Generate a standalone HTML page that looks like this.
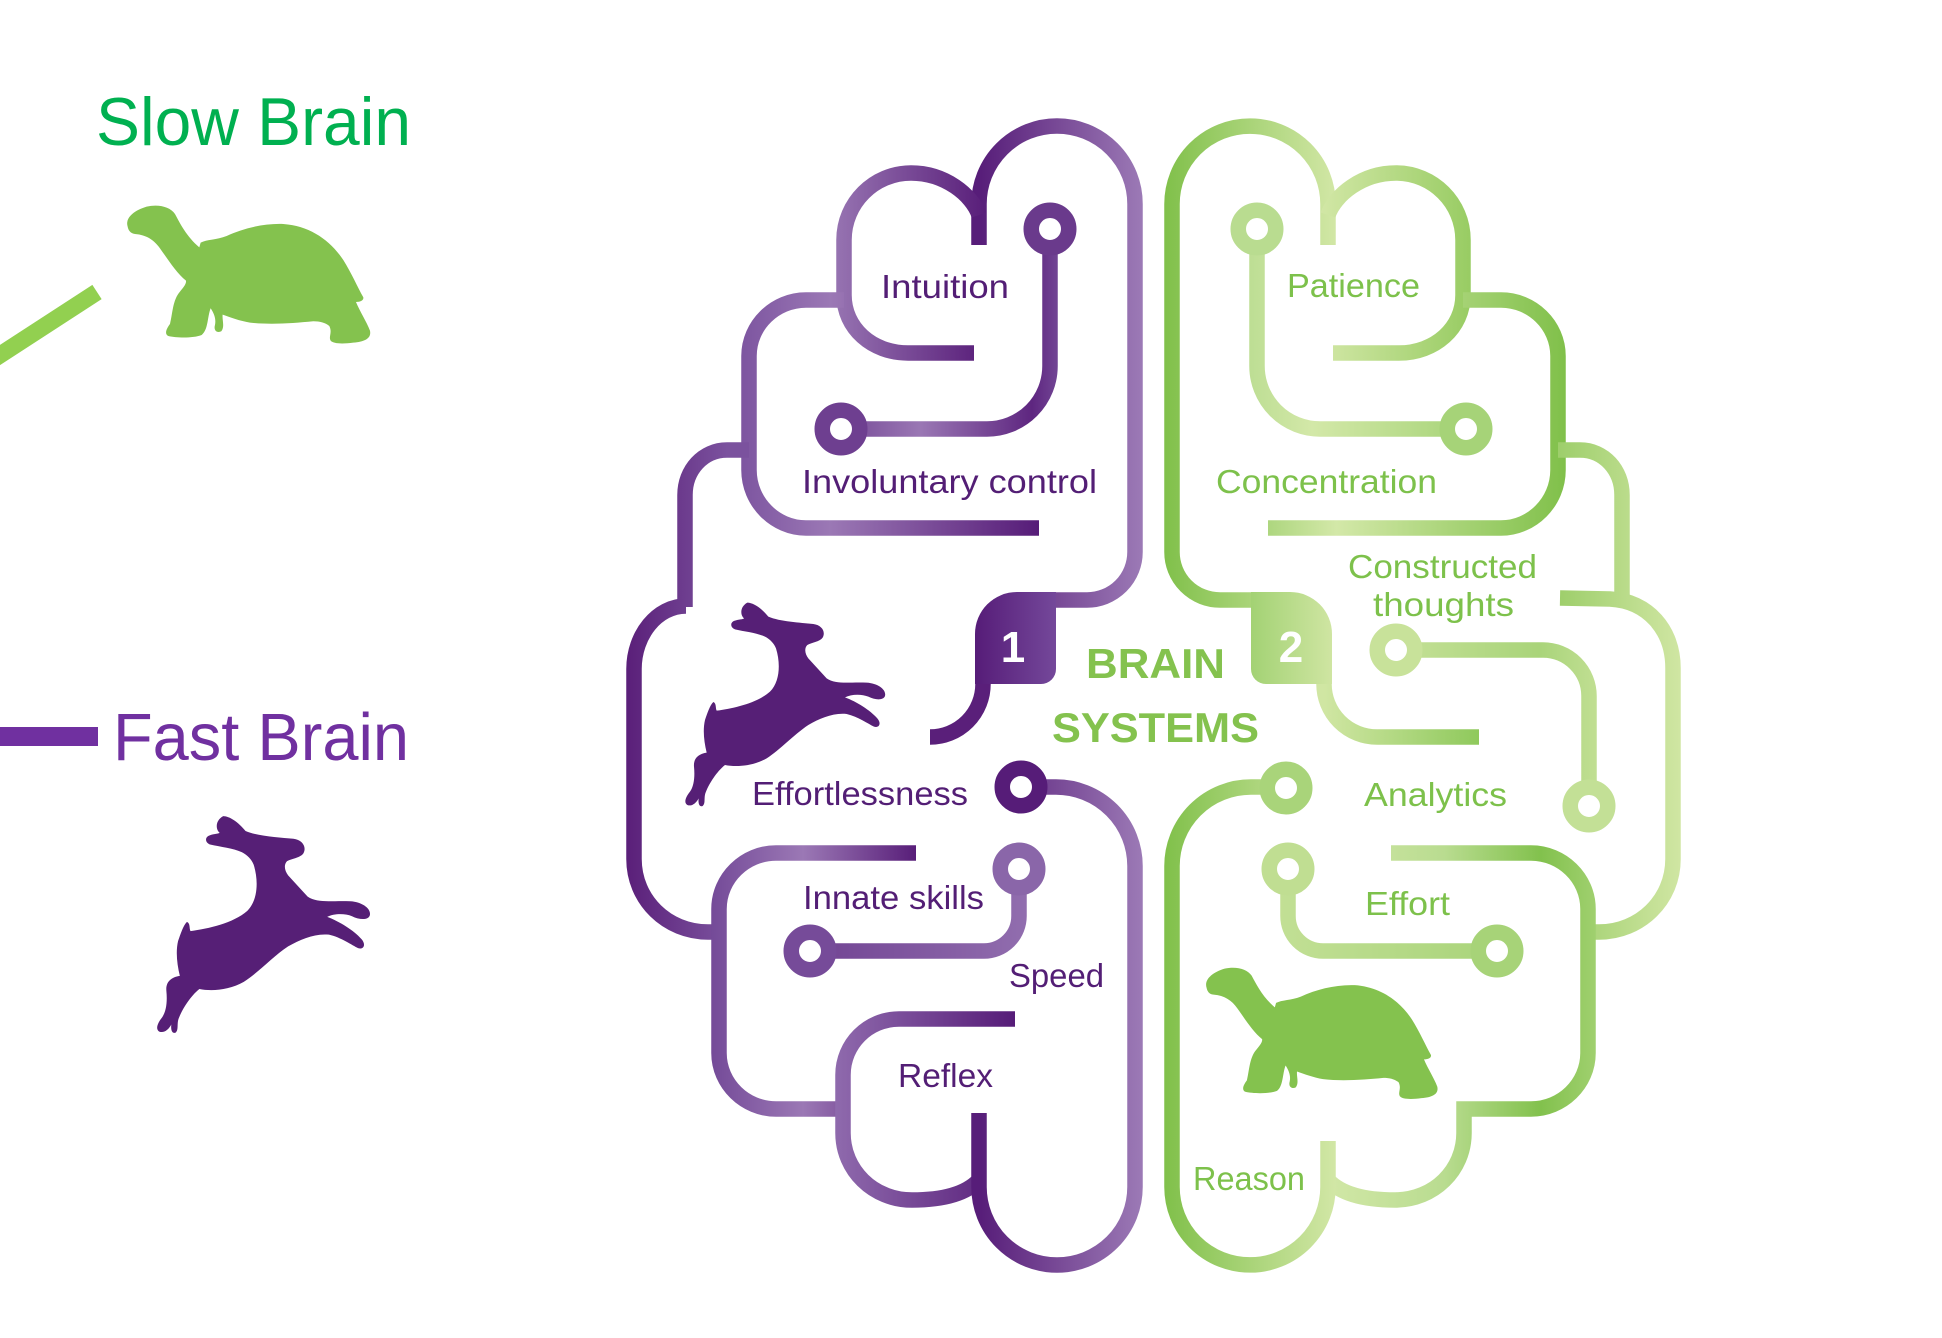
<!DOCTYPE html>
<html>
<head>
<meta charset="utf-8">
<style>
html,body{margin:0;padding:0;background:#ffffff;overflow:hidden;}
svg{display:block;}
text{font-family:"Liberation Sans",Arial,sans-serif;}
</style>
</head>
<body>
<svg xmlns="http://www.w3.org/2000/svg" width="1942" height="1338" viewBox="0 0 1942 1338">
<defs>
  <!-- purple gradients -->
  <linearGradient id="pA" gradientUnits="userSpaceOnUse" x1="979" y1="0" x2="1143" y2="0">
    <stop offset="0" stop-color="#571d79"/><stop offset="1" stop-color="#9c7ab6"/>
  </linearGradient>
  <linearGradient id="pB" gradientUnits="userSpaceOnUse" x1="836" y1="0" x2="987" y2="0">
    <stop offset="0" stop-color="#9673b1"/><stop offset="1" stop-color="#581d79"/>
  </linearGradient>
  <linearGradient id="pC" gradientUnits="userSpaceOnUse" x1="741" y1="0" x2="1039" y2="0">
    <stop offset="0" stop-color="#7d55a0"/><stop offset="0.3" stop-color="#9b78b5"/><stop offset="1" stop-color="#561c78"/>
  </linearGradient>
  <linearGradient id="pD" gradientUnits="userSpaceOnUse" x1="626" y1="0" x2="727" y2="0">
    <stop offset="0" stop-color="#5a1f79"/><stop offset="1" stop-color="#7b529e"/>
  </linearGradient>
  <linearGradient id="pE" gradientUnits="userSpaceOnUse" x1="711" y1="0" x2="916" y2="0">
    <stop offset="0" stop-color="#744a98"/><stop offset="0.45" stop-color="#9b78b5"/><stop offset="1" stop-color="#581e79"/>
  </linearGradient>
  <linearGradient id="pF" gradientUnits="userSpaceOnUse" x1="835" y1="0" x2="1015" y2="0">
    <stop offset="0" stop-color="#8f6aad"/><stop offset="1" stop-color="#561c78"/>
  </linearGradient>
  <linearGradient id="pG" gradientUnits="userSpaceOnUse" x1="822" y1="0" x2="1069" y2="0">
    <stop offset="0" stop-color="#6e3f90"/><stop offset="0.4" stop-color="#9a77b4"/><stop offset="0.85" stop-color="#5e2680"/><stop offset="1" stop-color="#7a529d"/>
  </linearGradient>
  <linearGradient id="pH" gradientUnits="userSpaceOnUse" x1="790" y1="0" x2="1040" y2="0">
    <stop offset="0" stop-color="#6e3f90"/><stop offset="1" stop-color="#9370b0"/>
  </linearGradient>
  <linearGradient id="pBadge" gradientUnits="userSpaceOnUse" x1="975" y1="0" x2="1056" y2="0">
    <stop offset="0" stop-color="#561c78"/><stop offset="1" stop-color="#74489a"/>
  </linearGradient>
  <!-- green gradients -->
  <linearGradient id="gA" gradientUnits="userSpaceOnUse" x1="1164" y1="0" x2="1336" y2="0">
    <stop offset="0" stop-color="#80c04a"/><stop offset="1" stop-color="#d2e7a6"/>
  </linearGradient>
  <linearGradient id="gB" gradientUnits="userSpaceOnUse" x1="1320" y1="0" x2="1471" y2="0">
    <stop offset="0" stop-color="#d2e7a6"/><stop offset="1" stop-color="#98cc63"/>
  </linearGradient>
  <linearGradient id="gC" gradientUnits="userSpaceOnUse" x1="1260" y1="0" x2="1566" y2="0">
    <stop offset="0" stop-color="#a9d47a"/><stop offset="0.25" stop-color="#d3e8a8"/><stop offset="1" stop-color="#80c04a"/>
  </linearGradient>
  <linearGradient id="gD" gradientUnits="userSpaceOnUse" x1="1552" y1="0" x2="1681" y2="0">
    <stop offset="0" stop-color="#9bcd68"/><stop offset="1" stop-color="#d0e6a3"/>
  </linearGradient>
  <linearGradient id="gE" gradientUnits="userSpaceOnUse" x1="1320" y1="0" x2="1596" y2="0">
    <stop offset="0" stop-color="#d3e8a8"/><stop offset="0.45" stop-color="#b9dc90"/><stop offset="0.8" stop-color="#82c14d"/><stop offset="1" stop-color="#a0d06f"/>
  </linearGradient>
  <linearGradient id="gF" gradientUnits="userSpaceOnUse" x1="1238" y1="0" x2="1485" y2="0">
    <stop offset="0" stop-color="#b9dc90"/><stop offset="0.3" stop-color="#d3e8a8"/><stop offset="1" stop-color="#a3d274"/>
  </linearGradient>
  <linearGradient id="gG" gradientUnits="userSpaceOnUse" x1="1377" y1="0" x2="1608" y2="0">
    <stop offset="0" stop-color="#c8e29a"/><stop offset="0.7" stop-color="#a9d47a"/><stop offset="1" stop-color="#c5e197"/>
  </linearGradient>
  <linearGradient id="gH" gradientUnits="userSpaceOnUse" x1="1269" y1="0" x2="1516" y2="0">
    <stop offset="0" stop-color="#c3e096"/><stop offset="1" stop-color="#a7d378"/>
  </linearGradient>
  <linearGradient id="gI" gradientUnits="userSpaceOnUse" x1="1164" y1="0" x2="1305" y2="0">
    <stop offset="0" stop-color="#82c14d"/><stop offset="1" stop-color="#a9d47a"/>
  </linearGradient>
  <linearGradient id="gBadge" gradientUnits="userSpaceOnUse" x1="1251" y1="0" x2="1332" y2="0">
    <stop offset="0" stop-color="#a3d274"/><stop offset="1" stop-color="#cfe5a2"/>
  </linearGradient>
  <linearGradient id="gTail" gradientUnits="userSpaceOnUse" x1="1324" y1="0" x2="1479" y2="0">
    <stop offset="0" stop-color="#d0e6a3"/><stop offset="1" stop-color="#8fc95c"/>
  </linearGradient>
</defs>

<!-- ============ LEFT LEGEND ============ -->
<text x="96" y="145" font-size="68" fill="#00b050" textLength="315" lengthAdjust="spacingAndGlyphs">Slow Brain</text>
<line x1="-20" y1="368" x2="97" y2="292" stroke="#92d050" stroke-width="17"/>
<text x="113" y="760" font-size="67" fill="#7030a0" textLength="296" lengthAdjust="spacingAndGlyphs">Fast Brain</text>
<rect x="0" y="727" width="98" height="19" fill="#7030a0"/>

<!-- turtle (legend) -->
<path id="turtle" transform="translate(0,60) scale(0.3333)" fill="#84c24e" d="M 383 500 C 375 475, 400 452, 440 440 C 475 432, 510 440, 525 462 C 540 490, 560 530, 598 562 L 602 548 C 620 538, 650 540, 680 528 C 730 505, 790 490, 850 492 C 930 498, 990 540, 1030 600 C 1055 640, 1072 680, 1090 712 C 1092 722, 1080 726, 1068 726 C 1080 755, 1100 785, 1110 812 C 1115 835, 1095 845, 1060 848 C 1030 852, 1000 852, 992 842 C 985 830, 998 818, 988 798 C 975 788, 960 784, 940 784 C 880 790, 810 795, 750 788 C 720 783, 690 772, 668 764 C 666 780, 675 800, 664 814 C 652 820, 640 812, 645 795 C 648 780, 645 765, 632 745 C 622 770, 625 810, 605 825 C 580 835, 530 834, 505 828 C 492 822, 500 805, 510 792 C 518 760, 518 720, 540 695 C 548 685, 560 672, 558 662 C 530 640, 505 600, 480 565 C 462 540, 440 525, 405 522 C 390 520, 385 510, 383 500 Z"/>

<!-- hare (legend) -->
<path transform="translate(140.8,802.6) scale(0.355)" fill="#561f76" d="M 232 38 C 250 38, 275 55, 295 80 C 330 95, 390 98, 430 102 C 455 105, 468 125, 458 143 C 450 155, 425 158, 412 165 C 402 175, 405 192, 415 205 L 470 265 C 500 285, 540 275, 590 278 C 625 280, 650 300, 645 318 C 640 332, 615 330, 595 320 C 575 312, 545 312, 525 322 C 560 335, 600 360, 622 385 C 635 400, 628 415, 612 410 C 595 402, 565 380, 530 372 C 490 368, 450 385, 415 405 C 370 435, 330 480, 290 505 C 250 528, 200 532, 165 525 C 140 545, 118 580, 108 605 C 100 622, 108 640, 98 648 C 88 652, 84 640, 86 625 C 78 640, 65 650, 52 645 C 40 638, 48 620, 60 605 C 72 588, 75 560, 72 530 C 70 505, 85 492, 110 488 C 102 455, 98 420, 105 390 C 112 370, 120 345, 130 336 C 140 340, 136 355, 140 362 C 190 355, 260 340, 300 305 C 330 275, 332 220, 318 175 C 312 160, 300 148, 285 140 C 260 128, 225 125, 195 118 C 180 112, 180 96, 195 92 C 205 88, 220 88, 222 85 C 210 75, 210 50, 232 38 Z"/>

<!-- ============ PURPLE HEMISPHERE ============ -->
<g fill="none" stroke-width="15.5" stroke-linecap="butt" stroke-linejoin="round">
  <path stroke="url(#pA)" d="M 979 245 V 204 A 78 78 0 0 1 1135 204 V 552 A 48 48 0 0 1 1087 600 H 1050"/>
  <path stroke="url(#pB)" d="M 979 215 C 972 195, 945 173, 911 173 C 874 173, 844 203, 844 240 V 295 C 844 328, 872 353, 908 353 H 974"/>
  <path stroke="url(#pC)" d="M 844 300 H 806 C 775 300, 749 325, 749 356 V 470 C 749 502, 775 528, 806 528 H 1039"/>
  <path stroke="url(#pD)" d="M 749 450 H 727 C 703 450, 685 470, 685 495 V 607"/>
  <path stroke="url(#pD)" d="M 686 606 C 657 606, 634 635, 634 669 V 859 C 634 900, 667 932, 708 932 H 722"/>
  <path stroke="url(#pE)" d="M 916 853 H 776 C 745 853, 719 878, 719 909 V 1053 C 719 1084, 745 1109, 776 1109 H 846"/>
  <path stroke="url(#pF)" d="M 1015 1019 H 899 C 868 1019, 843 1044, 843 1075 V 1133 C 843 1170, 873 1200, 912 1200 C 940 1200, 965 1195, 979 1180"/>
  <path stroke="url(#pA)" d="M 979 1113 V 1187 A 78 78 0 0 0 1135 1187 V 866 A 79 79 0 0 0 1056 787 H 1040"/>
  <path stroke="url(#pG)" d="M 1050 248 V 366 A 63 63 0 0 1 987 429 H 860"/>
  <path stroke="url(#pH)" d="M 1019 888 V 916 A 35 35 0 0 1 984 951 H 829"/>
  <path stroke="#5a1f7a" d="M 983 680 V 684 A 53 53 0 0 1 930 737"/>
  <circle cx="1050" cy="229" r="18.75" fill="#fff" stroke="#6a3a8c"/>
  <circle cx="841" cy="429" r="18.75" fill="#fff" stroke="#6e3f90"/>
  <circle cx="1021" cy="787" r="18.75" fill="#fff" stroke="#561c78"/>
  <circle cx="1019" cy="869" r="18.75" fill="#fff" stroke="#8a66a9"/>
  <circle cx="810" cy="951" r="18.75" fill="#fff" stroke="#764b99"/>
</g>
<path fill="url(#pBadge)" d="M 975 684 V 634 A 42 42 0 0 1 1017 592 H 1056 V 669 A 15 15 0 0 1 1041 684 Z"/>
<text x="1013" y="662" font-size="44" font-weight="bold" fill="#ffffff" text-anchor="middle">1</text>

<!-- rabbit in brain -->
<path transform="translate(670,590) scale(0.3333)" fill="#561f76" d="M 232 38 C 250 38, 275 55, 295 80 C 330 95, 390 98, 430 102 C 455 105, 468 125, 458 143 C 450 155, 425 158, 412 165 C 402 175, 405 192, 415 205 L 470 265 C 500 285, 540 275, 590 278 C 625 280, 650 300, 645 318 C 640 332, 615 330, 595 320 C 575 312, 545 312, 525 322 C 560 335, 600 360, 622 385 C 635 400, 628 415, 612 410 C 595 402, 565 380, 530 372 C 490 368, 450 385, 415 405 C 370 435, 330 480, 290 505 C 250 528, 200 532, 165 525 C 140 545, 118 580, 108 605 C 100 622, 108 640, 98 648 C 88 652, 84 640, 86 625 C 78 640, 65 650, 52 645 C 40 638, 48 620, 60 605 C 72 588, 75 560, 72 530 C 70 505, 85 492, 110 488 C 102 455, 98 420, 105 390 C 112 370, 120 345, 130 336 C 140 340, 136 355, 140 362 C 190 355, 260 340, 300 305 C 330 275, 332 220, 318 175 C 312 160, 300 148, 285 140 C 260 128, 225 125, 195 118 C 180 112, 180 96, 195 92 C 205 88, 220 88, 222 85 C 210 75, 210 50, 232 38 Z"/>

<!-- purple labels -->
<g font-size="33" fill="#531e75">
  <text x="881" y="298" textLength="128" lengthAdjust="spacingAndGlyphs">Intuition</text>
  <text x="802" y="493" textLength="295" lengthAdjust="spacingAndGlyphs">Involuntary control</text>
  <text x="752" y="805" textLength="216" lengthAdjust="spacingAndGlyphs">Effortlessness</text>
  <text x="803" y="909" textLength="181" lengthAdjust="spacingAndGlyphs">Innate skills</text>
  <text x="1009" y="987" textLength="95" lengthAdjust="spacingAndGlyphs">Speed</text>
  <text x="898" y="1087" textLength="95" lengthAdjust="spacingAndGlyphs">Reflex</text>
</g>

<!-- ============ GREEN HEMISPHERE ============ -->
<g fill="none" stroke-width="15.5" stroke-linecap="butt" stroke-linejoin="round">
  <path stroke="url(#gA)" d="M 1328 245 V 204 A 78 78 0 0 0 1172 204 V 552 A 48 48 0 0 0 1220 600 H 1257"/>
  <path stroke="url(#gB)" d="M 1328 215 C 1335 195, 1362 173, 1396 173 C 1433 173, 1463 203, 1463 240 V 295 C 1463 328, 1435 353, 1399 353 H 1333"/>
  <path stroke="url(#gC)" d="M 1463 300 H 1501 C 1532 300, 1558 325, 1558 356 V 470 C 1558 502, 1532 528, 1501 528 H 1268"/>
  <path stroke="url(#gD)" d="M 1558 450 H 1580 C 1604 450, 1622 470, 1622 495 V 604"/>
  <path stroke="url(#gD)" d="M 1560 598 L 1610 599 C 1648 601, 1673 630, 1673 668 V 859 C 1673 900, 1640 932, 1599 932 H 1585"/>
  <path stroke="url(#gE)" stroke-linejoin="miter" d="M 1391 853 H 1531 C 1562 853, 1588 878, 1588 909 V 1053 C 1588 1084, 1562 1109, 1531 1109 H 1464 V 1133 C 1464 1170, 1434 1200, 1395 1200 C 1367 1200, 1342 1195, 1328 1180"/>
  <path stroke="url(#gA)" d="M 1328 1141 V 1187 A 78 78 0 0 1 1172 1187 V 866 A 79 79 0 0 1 1251 787 H 1267"/>
  <path stroke="url(#gF)" d="M 1257 248 V 366 A 63 63 0 0 0 1320 429 H 1447"/>
  <path stroke="url(#gG)" d="M 1415 650 H 1543 A 46 46 0 0 1 1589 696 V 787"/>
  <path stroke="url(#gH)" d="M 1288 888 V 916 A 35 35 0 0 0 1323 951 H 1478"/>
  <path stroke="url(#gTail)" d="M 1324 680 V 684 A 53 53 0 0 0 1377 737 H 1479"/>
  <circle cx="1257" cy="229" r="18.75" fill="#fff" stroke="#b9dc90"/>
  <circle cx="1466" cy="429" r="18.75" fill="#fff" stroke="#a6d378"/>
  <circle cx="1396" cy="650" r="18.75" fill="#fff" stroke="#c8e29a"/>
  <circle cx="1589" cy="806" r="18.75" fill="#fff" stroke="#c3e096"/>
  <circle cx="1286" cy="788" r="18.75" fill="#fff" stroke="#a9d47a"/>
  <circle cx="1288" cy="869" r="18.75" fill="#fff" stroke="#c0de92"/>
  <circle cx="1497" cy="951" r="18.75" fill="#fff" stroke="#a7d378"/>
</g>
<path fill="url(#gBadge)" d="M 1332 684 V 634 A 42 42 0 0 0 1290 592 H 1251 V 669 A 15 15 0 0 0 1266 684 Z"/>
<text x="1291" y="662" font-size="44" font-weight="bold" fill="#ffffff" text-anchor="middle">2</text>

<!-- turtle in brain -->
<path transform="translate(1085,829) scale(0.3174)" fill="#84c24e" d="M 383 500 C 375 475, 400 452, 440 440 C 475 432, 510 440, 525 462 C 540 490, 560 530, 598 562 L 602 548 C 620 538, 650 540, 680 528 C 730 505, 790 490, 850 492 C 930 498, 990 540, 1030 600 C 1055 640, 1072 680, 1090 712 C 1092 722, 1080 726, 1068 726 C 1080 755, 1100 785, 1110 812 C 1115 835, 1095 845, 1060 848 C 1030 852, 1000 852, 992 842 C 985 830, 998 818, 988 798 C 975 788, 960 784, 940 784 C 880 790, 810 795, 750 788 C 720 783, 690 772, 668 764 C 666 780, 675 800, 664 814 C 652 820, 640 812, 645 795 C 648 780, 645 765, 632 745 C 622 770, 625 810, 605 825 C 580 835, 530 834, 505 828 C 492 822, 500 805, 510 792 C 518 760, 518 720, 540 695 C 548 685, 560 672, 558 662 C 530 640, 505 600, 480 565 C 462 540, 440 525, 405 522 C 390 520, 385 510, 383 500 Z"/>

<!-- green labels -->
<g font-size="33" fill="#7dc14b">
  <text x="1287" y="297" textLength="133" lengthAdjust="spacingAndGlyphs">Patience</text>
  <text x="1216" y="493" textLength="221" lengthAdjust="spacingAndGlyphs">Concentration</text>
  <text x="1348" y="578" textLength="189" lengthAdjust="spacingAndGlyphs">Constructed</text>
  <text x="1373" y="616" textLength="141" lengthAdjust="spacingAndGlyphs">thoughts</text>
  <text x="1364" y="806" textLength="143" lengthAdjust="spacingAndGlyphs">Analytics</text>
  <text x="1365" y="915" textLength="85" lengthAdjust="spacingAndGlyphs">Effort</text>
  <text x="1193" y="1190" textLength="112" lengthAdjust="spacingAndGlyphs">Reason</text>
</g>

<!-- center title -->
<g font-size="42" font-weight="bold" fill="#84c24e">
  <text x="1086" y="678" textLength="139" lengthAdjust="spacingAndGlyphs">BRAIN</text>
  <text x="1052" y="742" textLength="207" lengthAdjust="spacingAndGlyphs">SYSTEMS</text>
</g>
</svg>
</body>
</html>
